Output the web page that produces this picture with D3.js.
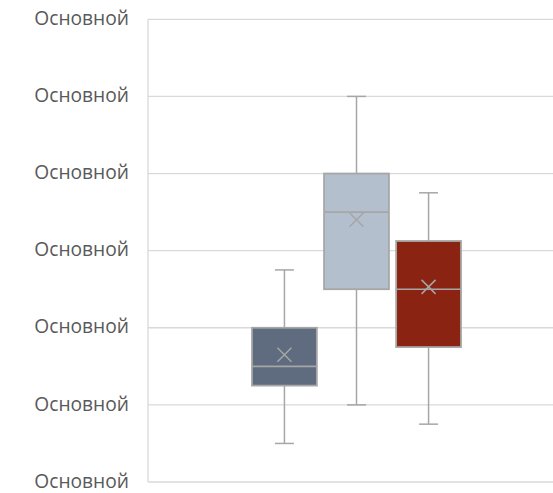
<!DOCTYPE html>
<html><head><meta charset="utf-8">
<script src="https://cdn.jsdelivr.net/npm/d3@7"></script>
<style>body{margin:0;background:#fff}svg{display:block}</style>
</head><body>
<script>
const tickValues = [0, 1, 2, 3, 4, 5, 6];
const tickLabels = ["Основной","Основной","Основной","Основной","Основной","Основной","Основной"];
const seriesNames = ["Ряд 1", "Ряд 2", "Ряд 3"];
const seriesColors = ["#5f6b7e", "#b4bfce", "#8b2313"];
const mins = [0.5, 1.0, 0.75];
const q1s = [1.25, 2.5, 1.75];
const medians = [1.5, 3.5, 2.5];
const q3s = [2.0, 4.0, 3.125];
const maxs = [2.75, 5.0, 3.75];
const means = [1.65, 3.4, 2.53];

const W = 553, H = 493;
const m = {left: 148, top: 19.3, bottom: 11};
const plotRight = 565;
const svg = d3.select("body").append("svg").attr("width", W).attr("height", H);

const y = d3.scaleLinear().domain([0, 6]).range([H - m.bottom, m.top]);
const x = d3.scaleBand().domain(seriesNames).range([252, 461]).paddingInner(0.1);

// grid
svg.append("g").selectAll("line").data(tickValues).join("line")
  .attr("x1", m.left).attr("x2", plotRight)
  .attr("y1", d => y(d)).attr("y2", d => y(d))
  .attr("stroke", "#d9d9d9").attr("stroke-width", 1.3);
svg.append("line").attr("x1", m.left).attr("x2", m.left)
  .attr("y1", y(6)).attr("y2", y(0)).attr("stroke", "#d9d9d9").attr("stroke-width", 1.3);

const yAxis = d3.axisLeft(y).tickValues(tickValues).tickFormat((d, i) => tickLabels[i]).tickSize(0).tickPadding(19);
const ga = svg.append("g").attr("transform", `translate(${m.left},0)`).call(yAxis);
ga.select(".domain").remove();
ga.selectAll("text").attr("font-family", "'Open Sans', sans-serif").attr("font-size", 19.2).attr("fill", "#595959").attr("dy", "0.27em");

const stroke = "#a6a6a6";
const idx = d3.range(seriesNames.length);
const g = svg.append("g");
idx.forEach(i => {
  const s = seriesNames[i];
  const x0 = x(s), bw = x.bandwidth(), cx = x0 + bw / 2;
  // whiskers
  g.append("line").attr("x1", cx).attr("x2", cx).attr("y1", y(maxs[i])).attr("y2", y(q3s[i])).attr("stroke", stroke).attr("stroke-width", 1.5);
  g.append("line").attr("x1", cx).attr("x2", cx).attr("y1", y(q1s[i])).attr("y2", y(mins[i])).attr("stroke", stroke).attr("stroke-width", 1.5);
  [maxs[i], mins[i]].forEach(v => g.append("line").attr("x1", cx - 9.5).attr("x2", cx + 9.5).attr("y1", y(v)).attr("y2", y(v)).attr("stroke", stroke).attr("stroke-width", 1.5));
  // box
  g.append("rect").attr("x", x0).attr("width", bw).attr("y", y(q3s[i])).attr("height", y(q1s[i]) - y(q3s[i]))
    .attr("fill", seriesColors[i]).attr("stroke", stroke).attr("stroke-width", 1.8);
  g.append("line").attr("x1", x0).attr("x2", x0 + bw).attr("y1", y(medians[i])).attr("y2", y(medians[i])).attr("stroke", stroke).attr("stroke-width", 1.6);
  // mean X
  const my = y(means[i]), r = 7;
  g.append("path").attr("d", `M${cx - r},${my - r}L${cx + r},${my + r}M${cx - r},${my + r}L${cx + r},${my - r}`)
    .attr("stroke", stroke).attr("stroke-width", 1.5).attr("fill", "none");
});
</script>
</body></html>
